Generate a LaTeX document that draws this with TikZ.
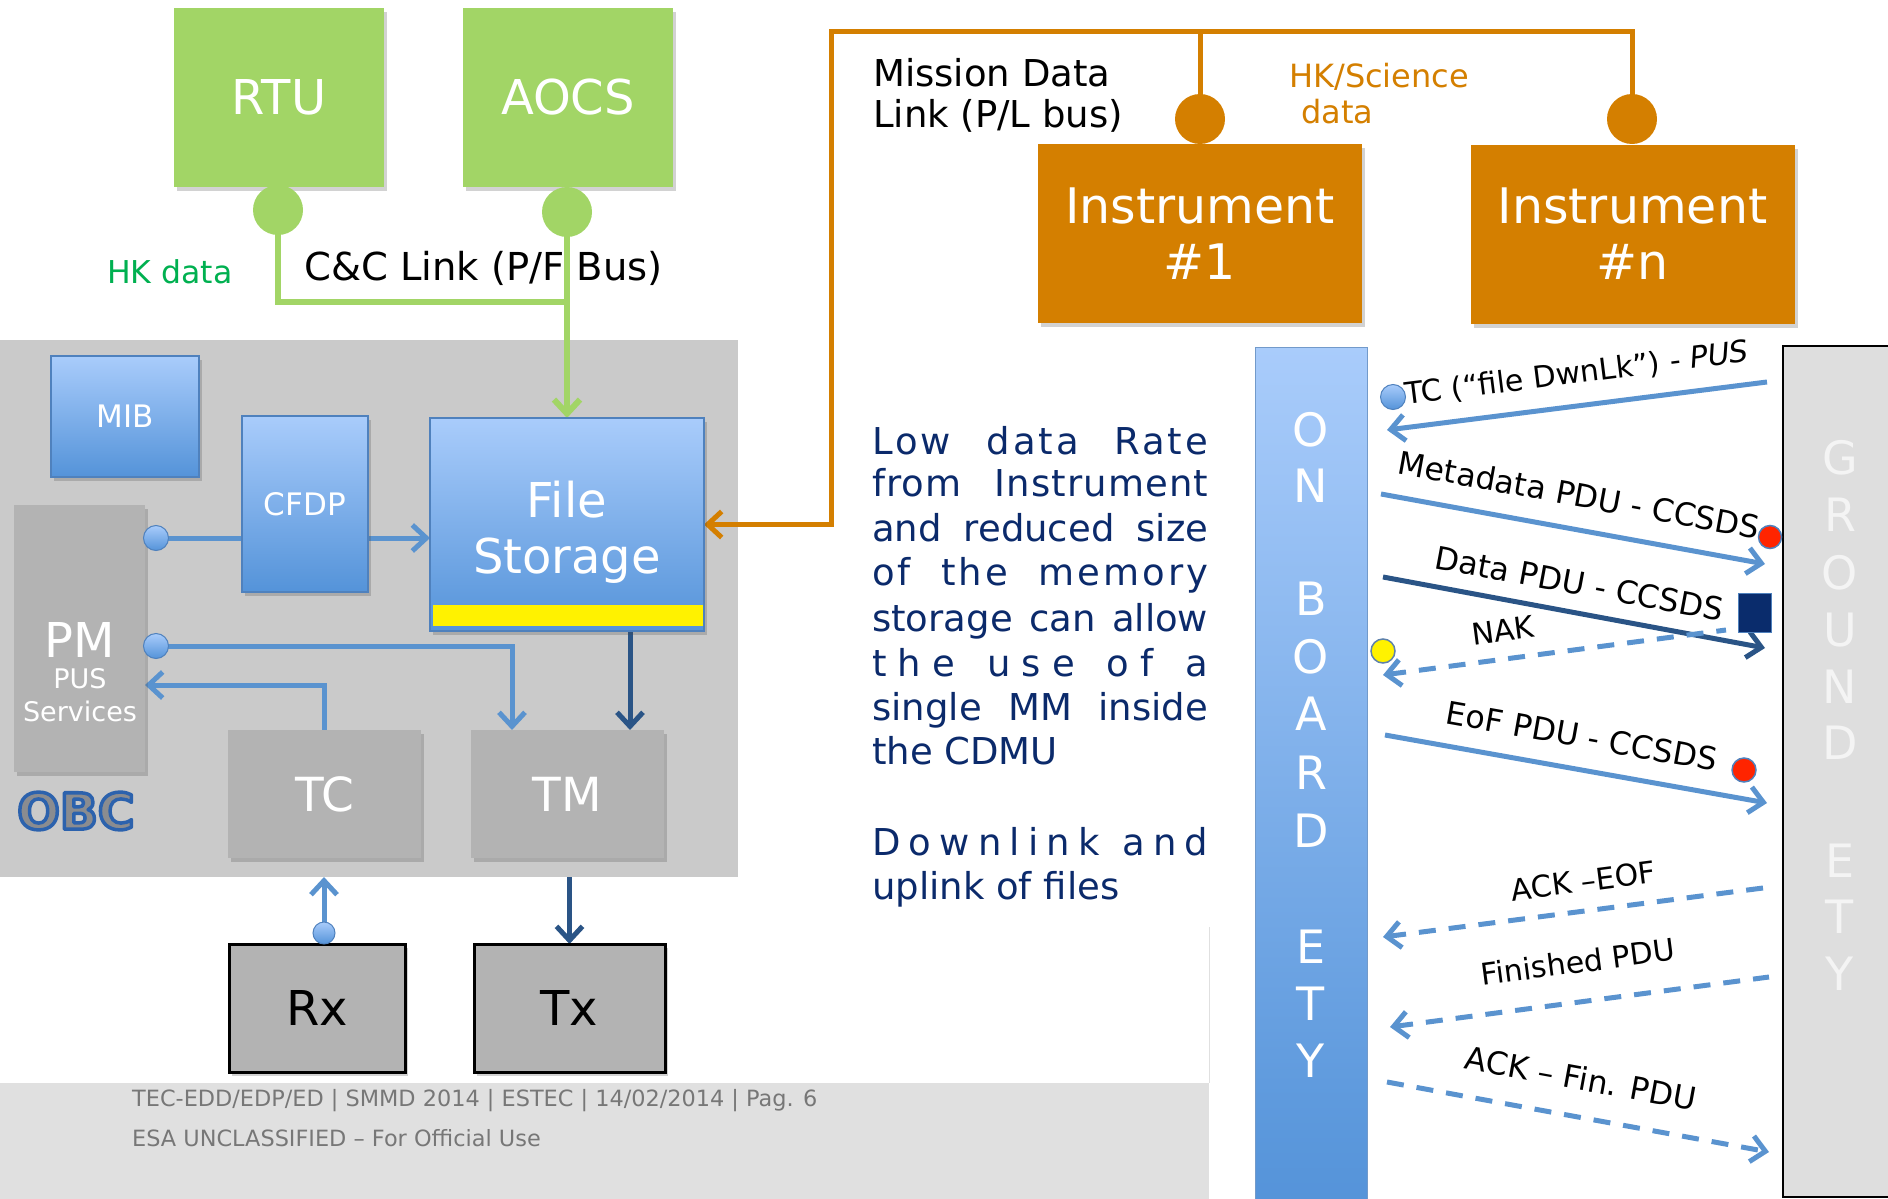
\documentclass[tikz,border=0pt]{standalone}
\usepackage{fontspec}
\setmainfont{DejaVu Sans}
\usetikzlibrary{arrows.meta,shadows}
\pgfdeclarelayer{back}
\pgfdeclarelayer{lines}
\pgfsetlayers{back,lines,main}
\definecolor{grn}{HTML}{A2D566}
\definecolor{hkgrn}{HTML}{00B050}
\definecolor{orng}{HTML}{D47F00}
\definecolor{blT}{HTML}{A9CCFB}
\definecolor{blB}{HTML}{5493D9}
\definecolor{blBd}{HTML}{4F81BD}
\definecolor{conn}{HTML}{5A93CF}
\definecolor{dkb}{HTML}{2A5486}
\definecolor{obcgray}{HTML}{CACACA}
\definecolor{boxgray}{HTML}{B3B3B3}
\definecolor{navy}{HTML}{0B2A6B}
\definecolor{foot}{HTML}{E0E0E0}
\definecolor{foottxt}{HTML}{777777}
\definecolor{gndfill}{HTML}{DEDEDE}
\definecolor{gndtxt}{HTML}{F4F4F4}
\definecolor{sqc}{HTML}{0A2C6C}
\definecolor{redd}{HTML}{FF2400}
\definecolor{obcF}{HTML}{8A8C90}
\newcommand\jl[1]{\makebox[336pt][s]{#1}}
\newcommand\lsp[1]{\addfontfeature{LetterSpace=#1}}
\newcommand\obcout[1]{\textcolor{obcF}{\special{pdf:literal direct 0.173 0.384 0.678 RG 3.5 w 1 j 2 Tr}#1\special{pdf:literal direct 0 Tr}}}
\begin{document}
\begin{tikzpicture}[x=1pt,y=-1pt,
  >={Straight Barb[length=14pt,width=26pt]},
  shad/.style={drop shadow={shadow xshift=3pt,shadow yshift=-4pt,opacity=.25,fill=black!70}},
  base/.style={inner sep=0pt,outer sep=0pt},
  gbox/.style={base,fill=grn,text=white,minimum width=210pt,minimum height=179pt,font=\fontsize{48}{56}\selectfont,shad},
  ibox/.style={base,fill=orng,text=white,minimum width=324pt,minimum height=179pt,align=center,font=\fontsize{49}{56}\selectfont,shad},
  bbox/.style={base,top color=blT,bottom color=blB,draw=blBd,line width=1.5pt,text=white,shad},
  gybox/.style={base,fill=boxgray,text=white,shad},
  rbox/.style={base,fill=boxgray,draw=black,line width=3pt,text=black,minimum width=176pt,minimum height=128pt,font=\fontsize{48}{56}\selectfont,shad},
  gcirc/.style={base,circle,fill=grn,minimum size=50pt},
  ocirc/.style={base,circle,fill=orng,minimum size=50pt},
  bcirc/.style={base,circle,top color=blT,bottom color=blB,draw=blBd,line width=1pt,minimum size=25pt},
  rcirc/.style={base,circle,fill=redd,draw=blBd,line width=1.5pt,minimum size=23pt},
  grl/.style={draw=grn,line width=6pt},
  orl/.style={draw=orng,line width=5pt},
  bll/.style={draw=conn,line width=5pt},
  dkl/.style={draw=dkb,line width=5pt},
  dsh/.style={bll,dash pattern=on 17pt off 13pt},
  lab/.style={font=\fontsize{30}{36}\selectfont,text=black,sloped,inner sep=0pt},
  labb/.style={lab,font=\fontsize{31.6}{36}\selectfont},
  body/.style={inner sep=0pt,text=navy,font=\fontsize{37}{44}\selectfont},
  vlet/.style={inner sep=0pt,text=white,font=\fontsize{46}{46}\selectfont},
  glet/.style={vlet,text=gndtxt}]
\useasboundingbox (0,0) rectangle (1888,1199);

\begin{pgfonlayer}{back}
\fill[foot] (0,1083) rectangle (1209,1199);
\draw[black!12,line width=1pt] (1209,927) -- (1209,1083);
\node[base,fill=obcgray,minimum width=738pt,minimum height=537pt] (obc) at (369,608.5) {};
\node[base,top color=blT,bottom color=blB,draw=blBd!80,line width=1pt,minimum width=112pt,minimum height=858pt] (onb) at (1311,776) {};
\node[base,fill=gndfill,draw=black,line width=2pt,minimum width=112pt,minimum height=851pt] (gnd) at (1839,771.5) {};
\end{pgfonlayer}

% top green units
\node[gbox] (rtu) at (279,97.5) {RTU};
\node[gbox] (aocs) at (568,97.5) {AOCS};
\node[gcirc] (rtuc) at (278,210) {};
\node[gcirc] (aocsc) at (567,212) {};
\node[anchor=base west,inner sep=0pt,text=hkgrn,font=\fontsize{31.5}{36}\selectfont] (hk) at (107,283) {HK data};
\node[anchor=base west,inner sep=0pt,font=\fontsize{38.5}{44}\selectfont] (cc) at (304,280) {C\&C Link (P/F Bus)};

% instruments
\node[ibox] (ins1) at (1200,233.5) {Instrument\\\#1};
\node[ibox] (insn) at (1632.5,234) {Instrument\\\#n};
\node[ocirc] (ci1) at (1200,119) {};
\node[ocirc] (cin) at (1632,119) {};
\node[anchor=base west,inner sep=0pt,font=\fontsize{37}{42}\selectfont] (md1) at (873,86) {Mission Data};
\node[anchor=base west,inner sep=0pt,font=\fontsize{37}{42}\selectfont] (md2) at (873,128) {Link (P/L bus)};
\node[anchor=base west,inner sep=0pt,text=orng,font=\fontsize{32}{38}\selectfont] (hs1) at (1289,88) {HK/Science};
\node[anchor=base west,inner sep=0pt,text=orng,font=\fontsize{32}{38}\selectfont] (hs2) at (1301,123) {data};

% OBC content
\node[bbox,minimum width=148pt,minimum height=121pt,font=\fontsize{31}{36}\selectfont] (mib) at (125,416.5) {MIB};
\node[bbox,minimum width=126pt,minimum height=176pt,font=\fontsize{31}{36}\selectfont] (cfdp) at (305,504) {CFDP};
\node[bbox,minimum width=274pt,minimum height=213pt] (fs) at (567,524.5) {};
\node[base,fill=yellow,minimum width=270pt,minimum height=21pt] (fsbar) at (568,615.5) {};
\node[inner sep=0pt,text=white,align=center,font=\fontsize{48}{56}\selectfont] (fst) at (567,532) {File\\Storage};
\node[gybox,minimum width=131pt,minimum height=267pt] (pm) at (79.5,638.5) {};
\node[anchor=base,inner sep=0pt,text=white,font=\fontsize{48}{56}\selectfont] (pmA) at (80,657) {PM};
\node[anchor=base,inner sep=0pt,text=white,font=\fontsize{27}{32}\selectfont] (pmB) at (80,688) {PUS};
\node[anchor=base,inner sep=0pt,text=white,font=\fontsize{27}{32}\selectfont] (pmC) at (80,721) {Services};
\node[gybox,minimum width=193pt,minimum height=128pt,font=\fontsize{47}{56}\selectfont] (tc) at (324.5,794) {TC};
\node[gybox,minimum width=193pt,minimum height=128pt,font=\fontsize{47}{56}\selectfont] (tm) at (567.5,794) {TM};
\node[bcirc] (pc1) at (156,538) {};
\node[bcirc] (pc2) at (156,646) {};
\node[inner sep=0pt,font=\bfseries\fontsize{50}{56}\selectfont] (obct) at (76,811) {\obcout{OBC}};

% Rx Tx
\node[rbox] (rx) at (317,1008) {Rx};
\node[rbox,minimum width=191pt] (tx) at (569.5,1008) {Tx};
\node[bcirc,minimum size=22pt] (rxc) at (324,933) {};

% body text
\foreach \yy/\txt [count=\i] in {454/{\jl{\lsp{8}Low data Rate}},496/{\jl{\lsp{3}from Instrument}},541/{\jl{and reduced size}},585/{\jl{\lsp{8}of the memory}},631/{\jl{storage can allow}},676/{\jl{\lsp{30}the use of a}},720/{\jl{single MM inside}},764/{the CDMU},855/{\jl{\lsp{22}Downlink and}},899/{uplink of files}}
  \node[body,anchor=base west] (bt\i) at (872,\yy) {\txt};

% footer
\node[anchor=base west,inner sep=0pt,text=foottxt,font=\fontsize{22.4}{26}\selectfont] (f1) at (132,1106) {TEC-EDD/EDP/ED | SMMD 2014 | ESTEC | 14/02/2014 | Pag. 6};
\node[anchor=base west,inner sep=0pt,text=foottxt,font=\fontsize{22.4}{26}\selectfont] (f2) at (132,1146) {ESA UNCLASSIFIED – For Official Use};

% vertical letters
\foreach \c/\yy [count=\i] in {O/430,N/486,B/599,O/657,A/714,R/773,D/831,E/947,T/1004,Y/1061}
  \node[vlet] (onl\i) at (1311,\yy) {\c};
\foreach \c/\yy [count=\i] in {G/458,R/515,O/573,U/630,N/687,D/743,E/861,T/917,Y/974}
  \node[glet] (gl\i) at (1840,\yy) {\c};

% markers in exchange
\node[bcirc] (tcc) at (1393,397) {};
\node[rcirc] (red1) at (1770,537) {};
\node[rcirc,minimum size=24pt] (red2) at (1744,770) {};
\node[base,circle,fill=yellow,draw=blBd!70!gray,line width=1.5pt,minimum size=24pt] (yel) at (1383,651) {};
\node[base,fill=sqc,draw=blBd,line width=1pt,minimum width=33pt,minimum height=39pt] (sq) at (1754.5,612.5) {};

% coordinates
\coordinate (orTL) at (831,32);
\coordinate (grY) at (0,302);
\coordinate (tmIn) at (512,0);
\coordinate (pmIn) at (0,685);
\coordinate (dkx) at (630,0);
\coordinate (a1l) at (1387,430); \coordinate (a1r) at (1767,382);
\coordinate (a2l) at (1381,494); \coordinate (a2r) at (1765,564);
\coordinate (a3l) at (1383,577); \coordinate (a3r) at (1765,648);
\coordinate (a4l) at (1383,675); \coordinate (a4r) at (1726,630);
\coordinate (a5l) at (1385,735); \coordinate (a5r) at (1767,803);
\coordinate (a6l) at (1383,937); \coordinate (a6r) at (1763,888);
\coordinate (a7l) at (1390,1027); \coordinate (a7r) at (1769,977);
\coordinate (a8l) at (1387,1082); \coordinate (a8r) at (1769,1152);

\begin{pgfonlayer}{lines}
\draw[grl] (rtuc.center) -- (rtuc.center |- grY) -- (aocsc.center |- grY);
\draw[grl,->] (aocsc.center) -- (fs.north);
\draw[orl,->] (cin.center) -- (cin.center |- orTL) -- (orTL) -- (orTL |- fs.east) -- (fs.east);
\draw[orl] (ci1.center) -- (ci1.center |- orTL);
\draw[bll] (pc1.center) -- (pc1.center -| cfdp.west);
\draw[bll,->] (pc1.center -| cfdp.east) -- (pc1.center -| fs.west);
\draw[bll,->] (pc2.center) -| (tm.north -| tmIn);
\draw[bll,->] (tc.north) |- (pmIn -| pm.east);
\draw[dkl,->] (fs.south -| dkx) -- (tm.north -| dkx);
\draw[dkl,->] (obc.south -| tx.north) -- (tx.north);
\draw[bll,->] (rxc.center) -- (rxc.center |- obc.south);
% exchange
\draw[bll,<-] (a1l) -- node[lab,pos=.51,above=16pt] (l1) {TC (“file DwnLk”) - {\itshape PUS}} (a1r);
\draw[bll,->] (a2l) -- node[labb,pos=.5,above=20pt] (l2) {Metadata PDU - CCSDS} (a2r);
\draw[dkl,->] (a3l) -- node[labb,pos=.5,above=15pt] (l3) {Data PDU - CCSDS} (a3r);
\draw[dsh,<-] (a4l) -- node[lab,pos=.36,above=15pt] (l4) {NAK} (a4r);
\draw[bll,->] (a5l) -- node[labb,pos=.5,above=19pt] (l5) {EoF PDU - CCSDS} (a5r);
\draw[dsh,<-] (a6l) -- node[lab,pos=.537,above=16pt] (l6) {ACK –EOF} (a6r);
\draw[dsh,<-] (a7l) -- node[lab,pos=.51,above=26pt] (l7) {Finished PDU} (a7r);
\draw[dsh,->] (a8l) -- node[labb,pos=.49,above=24pt] (l8) {ACK – Fin. PDU} (a8r);
\end{pgfonlayer}
\end{tikzpicture}
\end{document}
